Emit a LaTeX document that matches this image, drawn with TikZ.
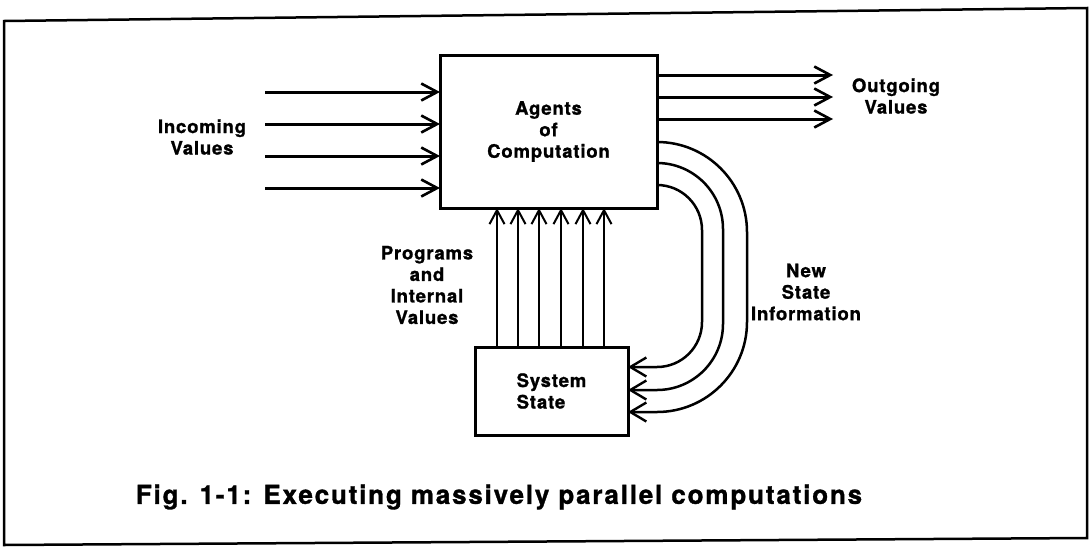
\documentclass[tikz,border=0pt]{standalone}
\usepackage{fontspec}
\setmainfont{TeX Gyre Heros}[LetterSpace=4.5, FakeBold=1.2]
\newfontfamily\capfont{TeX Gyre Heros}[LetterSpace=7, FakeBold=1.2]
\usetikzlibrary{arrows.meta}

\begin{document}
\begin{tikzpicture}[x=1pt,y=-1pt,
  every node/.style={font=\bfseries\fontsize{18.5}{21.5}\selectfont, inner sep=0pt, outer sep=0pt},
  blockbox/.style={draw, line width=3pt, align=center},
  label/.style={align=center},
  flow/.style={line width=3pt, -{Straight Barb[length=16pt,width=17pt,line width=2.6pt]}},
  feed/.style={line width=2pt, -{Straight Barb[length=14pt,width=15pt,line width=2pt]}},
  loopback/.style={line width=2.5pt, rounded corners=#1, -{Straight Barb[length=16pt,width=19pt,line width=2.4pt]}},
]
% page extent and outer frame
\path[use as bounding box] (0,0) rectangle (1090,555);
\draw[line width=2.5pt] (4,21) -- (1087,8) -- (1087,538) -- (4,545) -- cycle;

% the two blocks
\node[blockbox, minimum width=217pt, minimum height=153pt] (agents) at (548.5,131.5)
  {Agents\\of\\Computation};
\node[blockbox, align=left, minimum width=153pt, minimum height=88pt] (state) at (551.5,391)
  {System\\State};

% incoming values
\foreach \y [count=\i] in {92,124,156,188} {
  \coordinate (in\i) at (265,\y);
  \draw[flow] (in\i) -- (in\i -| agents.west);
}
\node[label] (inlabel) at (202,137) {Incoming\\Values};

% outgoing values
\foreach \y [count=\i] in {75,97,119} {
  \coordinate (out\i) at (833,\y);
  \draw[flow] (out\i -| agents.east) -- (out\i);
}
\node[label] (outlabel) at (896,96) {Outgoing\\Values};

% programs and internal values fed upward
\foreach \x [count=\i] in {497,518,539,561,583,604} {
  \coordinate (up\i) at (\x,0);
  \draw[feed] (up\i |- state.north) -- (up\i |- agents.south);
}
\node[label] (proglabel) at (427,285) {Programs\\and\\Internal\\Values};

% new state information returned to the system state
\foreach \ya/\yb/\r [count=\i] in {185/367/45, 163/390/66, 142/412/90} {
  \coordinate (src\i) at (0,\ya);
  \coordinate (dst\i) at (0,\yb);
  \draw[loopback=\r pt] (src\i -| agents.east) -- ++(\r,0) |- (dst\i -| state.east);
}
\node[label] (newlabel) at (806,292) {New\\State\\Information};

% caption
\node[font=\capfont\bfseries\fontsize{26}{30}\selectfont] (caption) at (499,497)
  {Fig. 1-1: Executing massively parallel computations};
\end{tikzpicture}
\end{document}
